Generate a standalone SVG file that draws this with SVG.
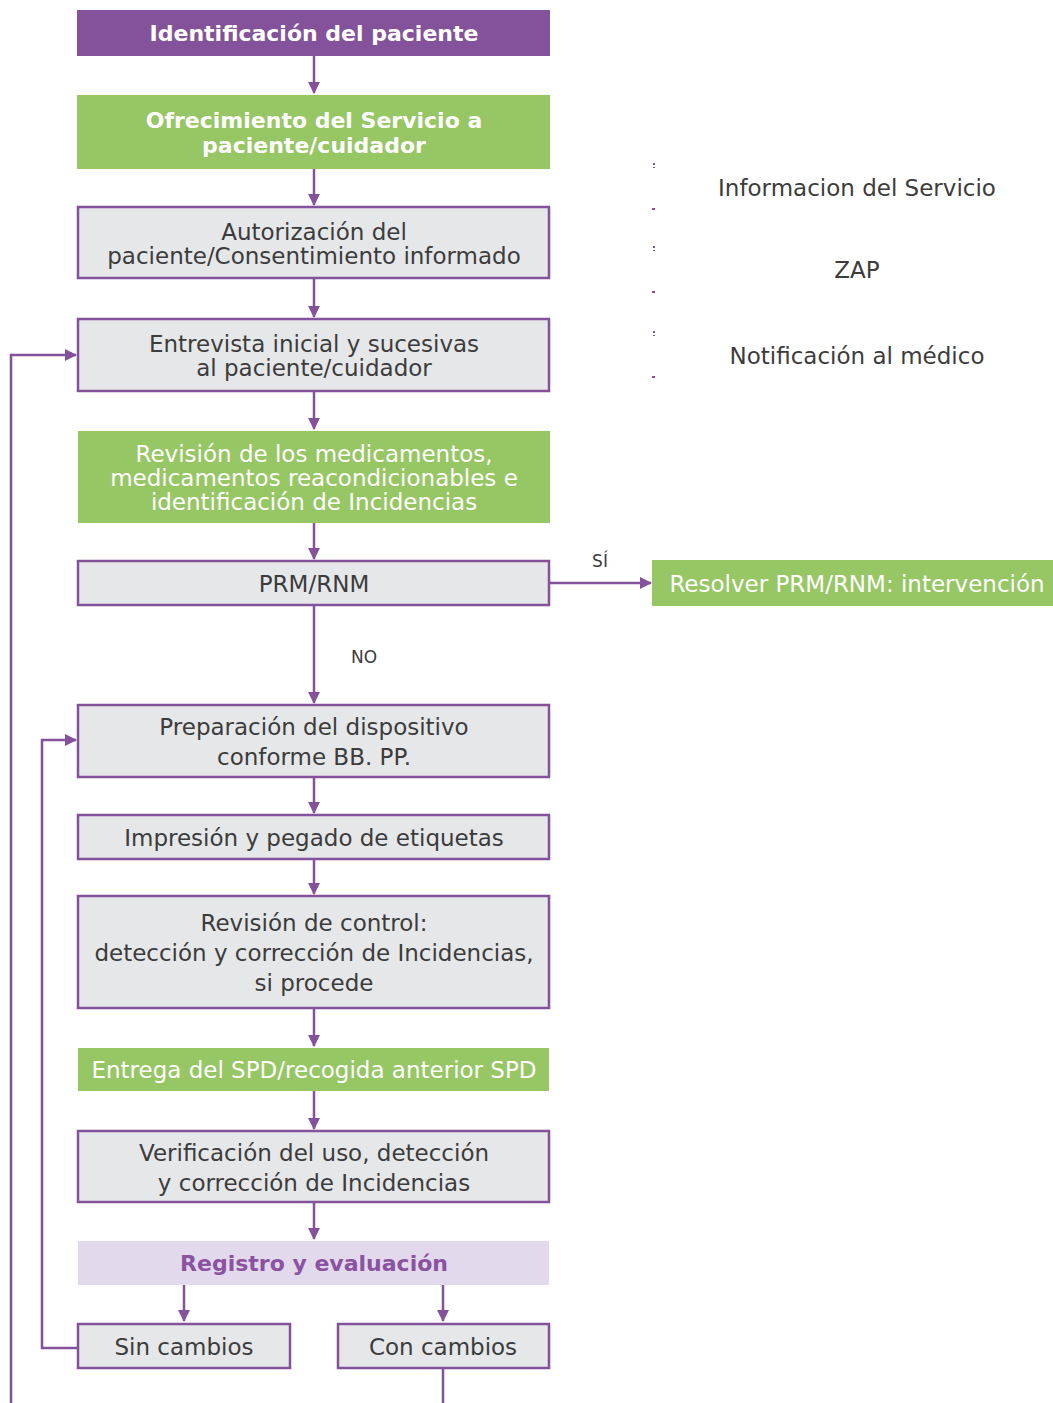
<svg xmlns="http://www.w3.org/2000/svg" width="1053" height="1403" viewBox="0 0 1053 1403">
<defs>
<marker id="ah" markerWidth="12" markerHeight="12" viewBox="0 0 12 12" refX="11" refY="6" orient="auto" markerUnits="userSpaceOnUse">
<path d="M0,0 L12,6 L0,12 Z" fill="#83529b"/>
</marker>
<style>
.gray{fill:#e6e7e9;stroke:#83529b;stroke-width:2.5}
.green{fill:#97c664}
.purple{fill:#83529b}
.lilac{fill:#e2d9ec}
.t{font-family:"DejaVu Sans",sans-serif;font-size:23px;fill:#3c3c3c;text-anchor:middle}
.tw{font-family:"DejaVu Sans",sans-serif;font-size:23px;fill:#ffffff;text-anchor:middle}
.tb{font-family:"DejaVu Sans",sans-serif;font-size:22px;font-weight:bold;fill:#ffffff;text-anchor:middle}
.tp{font-family:"DejaVu Sans",sans-serif;font-size:22px;font-weight:bold;fill:#8a52a0;text-anchor:middle}
.lbl{font-family:"DejaVu Sans",sans-serif;font-size:17px;fill:#3c3c3c;text-anchor:middle}
.c{fill:none;stroke:#83529b;stroke-width:2.5}
</style>
</defs>
<rect width="1053" height="1403" fill="#ffffff"/>

<g id="connectors">
<path class="c" d="M314,56 V93" marker-end="url(#ah)"/>
<path class="c" d="M314,169 V205" marker-end="url(#ah)"/>
<path class="c" d="M314,278 V317" marker-end="url(#ah)"/>
<path class="c" d="M314,391 V429" marker-end="url(#ah)"/>
<path class="c" d="M314,523 V559" marker-end="url(#ah)"/>
<path class="c" d="M550,583 H651" marker-end="url(#ah)"/>
<path class="c" d="M314,605 V703" marker-end="url(#ah)"/>
<path class="c" d="M314,777 V813" marker-end="url(#ah)"/>
<path class="c" d="M314,859 V894" marker-end="url(#ah)"/>
<path class="c" d="M314,1008 V1046" marker-end="url(#ah)"/>
<path class="c" d="M314,1091 V1129" marker-end="url(#ah)"/>
<path class="c" d="M314,1202 V1239" marker-end="url(#ah)"/>
<path class="c" d="M184,1285 V1321" marker-end="url(#ah)"/>
<path class="c" d="M443,1285 V1321" marker-end="url(#ah)"/>
<path class="c" d="M77,1348 H42 V740 H76" marker-end="url(#ah)"/>
<path class="c" d="M11,1403 V355 H76" marker-end="url(#ah)"/>
<path class="c" d="M443,1368 V1403"/>
<text class="lbl" x="600" y="567">SÍ</text>
<text class="lbl" x="364" y="663">NO</text>
</g>

<g id="n1"><rect class="purple" x="77" y="10" width="473" height="46"/><text class="tb" x="314" y="41">Identificación del paciente</text></g>
<g id="n2"><rect class="green" x="77" y="95" width="473" height="74"/><text class="tb" x="314" y="128">Ofrecimiento del Servicio a</text><text class="tb" x="314" y="153">paciente/cuidador</text></g>
<g id="n3"><rect class="gray" x="78" y="207" width="471" height="71"/><text class="t" x="314" y="240">Autorización del</text><text class="t" x="314" y="264">paciente/Consentimiento informado</text></g>
<g id="n4"><rect class="gray" x="78" y="319" width="471" height="72"/><text class="t" x="314" y="352">Entrevista inicial y sucesivas</text><text class="t" x="314" y="376">al paciente/cuidador</text></g>
<g id="n5"><rect class="green" x="78" y="431" width="472" height="92"/><text class="tw" x="314" y="462">Revisión de los medicamentos,</text><text class="tw" x="314" y="486">medicamentos reacondicionables e</text><text class="tw" x="314" y="510">identificación de Incidencias</text></g>
<g id="n6"><rect class="gray" x="78" y="561" width="471" height="44"/><text class="t" x="314" y="592">PRM/RNM</text></g>
<g id="n6b"><rect class="green" x="652" y="560" width="401" height="46"/><text class="tw" x="857" y="592">Resolver PRM/RNM: intervención</text></g>
<g id="n7"><rect class="gray" x="78" y="705" width="471" height="72"/><text class="t" x="314" y="735">Preparación del dispositivo</text><text class="t" x="314" y="765">conforme BB. PP.</text></g>
<g id="n8"><rect class="gray" x="78" y="815" width="471" height="44"/><text class="t" x="314" y="846">Impresión y pegado de etiquetas</text></g>
<g id="n9"><rect class="gray" x="78" y="896" width="471" height="112"/><text class="t" x="314" y="931">Revisión de control:</text><text class="t" x="314" y="961">detección y corrección de Incidencias,</text><text class="t" x="314" y="991">si procede</text></g>
<g id="n10"><rect class="green" x="78" y="1048" width="471" height="43"/><text class="tw" x="314" y="1078">Entrega del SPD/recogida anterior SPD</text></g>
<g id="n11"><rect class="gray" x="78" y="1131" width="471" height="71"/><text class="t" x="314" y="1161">Verificación del uso, detección</text><text class="t" x="314" y="1191">y corrección de Incidencias</text></g>
<g id="n12"><rect class="lilac" x="78" y="1241" width="471" height="44"/><text class="tp" x="314" y="1271">Registro y evaluación</text></g>
<g id="n13"><rect class="gray" x="78" y="1324" width="212" height="44"/><text class="t" x="184" y="1355">Sin cambios</text></g>
<g id="n14"><rect class="gray" x="338" y="1324" width="211" height="44"/><text class="t" x="443" y="1355">Con cambios</text></g>

<g id="side">
<text class="t" x="857" y="196">Informacion del Servicio</text>
<text class="t" x="857" y="278">ZAP</text>
<text class="t" x="857" y="364">Notificación al médico</text>
<g fill="#83529b">
<rect x="653" y="163" width="2" height="2"/><rect x="653" y="167" width="2" height="1"/>
<rect x="652" y="208" width="3" height="2"/>
<rect x="653" y="246" width="2" height="2"/><rect x="653" y="250" width="2" height="1"/>
<rect x="652" y="291" width="3" height="2"/>
<rect x="653" y="331" width="2" height="2"/><rect x="653" y="335" width="2" height="1"/>
<rect x="652" y="376" width="3" height="2"/>
</g>
</g>
</svg>
